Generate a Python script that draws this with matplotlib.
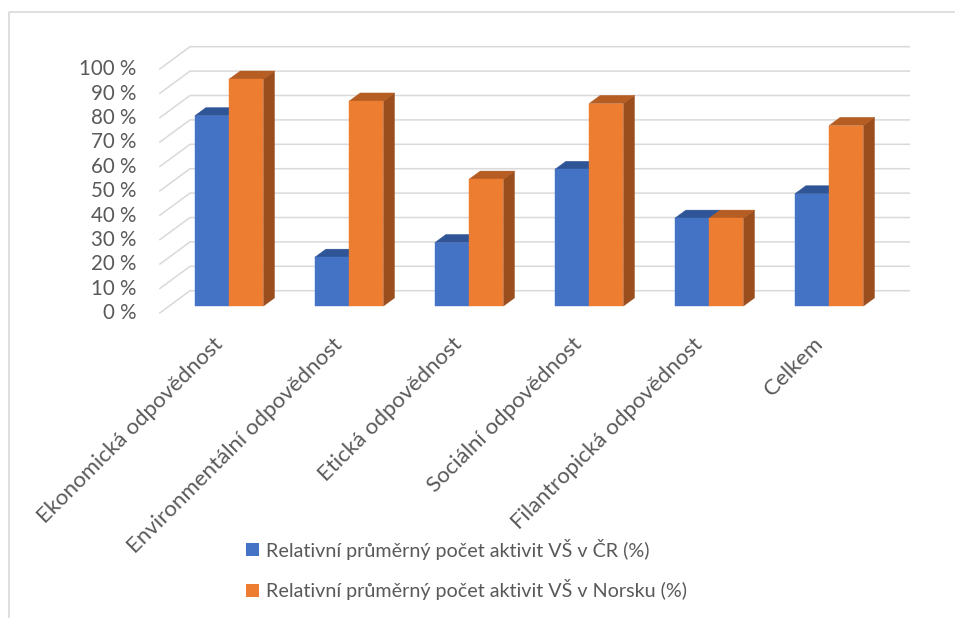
import matplotlib
matplotlib.use("Agg")
from matplotlib import pyplot as plt
from matplotlib.patches import Polygon, Patch
import numpy as np

plt.rcParams["font.family"] = ["Lato", "DejaVu Sans"]

# data
categories = ["Ekonomická odpovědnost", "Environmentální odpovědnost", "Etická odpovědnost",
              "Sociální odpovědnost", "Filantropická odpovědnost", "Celkem"]
cr_values = [78, 20, 26, 56, 36, 46]
norsko_values = [93, 84, 52, 83, 36, 74]
series_labels = ["Relativní průměrný počet aktivit VŠ v ČR (%)",
                 "Relativní průměrný počet aktivit VŠ v Norsku (%)"]
y_ticks = np.arange(0, 101, 10)

# colours: front, top, side
blue = ("#4472C4", "#2F5597", "#2F5597")
orange = ("#ED7D31", "#B55D22", "#9A4E1D")
text_col = "#595959"
grid_col = "#D9D9D9"

# oblique projection of the depth axis (in data units)
DX = 0.256   # shift to the right for full depth
DY = 9.26    # shift upward for full depth
Z_FRONT, Z_BACK = 0.32, 0.68
BAR_W = 0.286

fig = plt.figure(figsize=(9.55, 6.18), dpi=100)
ax = fig.add_axes([159.3 / 955, 304.7 / 618, 750.7 / 955, 266.6 / 618])
ax.set_xlim(0, 6 + DX)
ax.set_ylim(0, 100 + DY)
ax.axis("off")

n = len(categories)

# gridlines: diagonal on the left side wall, horizontal along the back wall
for t in y_ticks:
    ax.plot([0, DX, n + DX], [t, t + DY, t + DY], color=grid_col, lw=1.1, zorder=1,
            clip_on=False, solid_capstyle="butt")
    ax.text(-0.19, t, f"{t} %", ha="right", va="center", fontsize=14.8, color=text_col)


def bar3d(x0, w, v, cols):
    x1 = x0 + w
    yf, yb = Z_FRONT * DY, Z_BACK * DY
    xf, xb = Z_FRONT * DX, Z_BACK * DX
    front = [(x0 + xf, yf), (x1 + xf, yf), (x1 + xf, v + yf), (x0 + xf, v + yf)]
    top = [(x0 + xf, v + yf), (x1 + xf, v + yf), (x1 + xb, v + yb), (x0 + xb, v + yb)]
    side = [(x1 + xf, yf), (x1 + xb, yb), (x1 + xb, v + yb), (x1 + xf, v + yf)]
    for pts, c in ((side, cols[2]), (top, cols[1]), (front, cols[0])):
        ax.add_patch(Polygon(pts, closed=True, facecolor=c, edgecolor=c, lw=0.3,
                             zorder=2, clip_on=False))


for i in range(n):
    left = i + 0.5 - BAR_W
    bar3d(left, BAR_W, cr_values[i], blue)
    bar3d(left + BAR_W, BAR_W, norsko_values[i], orange)

# category labels, rotated
for i, cat in enumerate(categories):
    ax.text(i + 0.5, -11.5, cat, rotation=45, rotation_mode="anchor", ha="right",
            va="center", fontsize=16, color=text_col)

handles = [Patch(facecolor=blue[0]), Patch(facecolor=orange[0])]
fig.legend(handles, series_labels, loc="upper left", bbox_to_anchor=(228 / 955, 1 - 521 / 618),
           frameon=False, fontsize=14.2, labelcolor=text_col, handlelength=0.65,
           handleheight=0.65, handletextpad=0.4, labelspacing=1.0)

# chart border
fig.add_artist(plt.Line2D([9 / 955, 9 / 955, 1.0], [0.0, 1 - 12 / 618, 1 - 12 / 618],
                          color=grid_col, lw=1.2))

fig.savefig("out.png", dpi=100)
